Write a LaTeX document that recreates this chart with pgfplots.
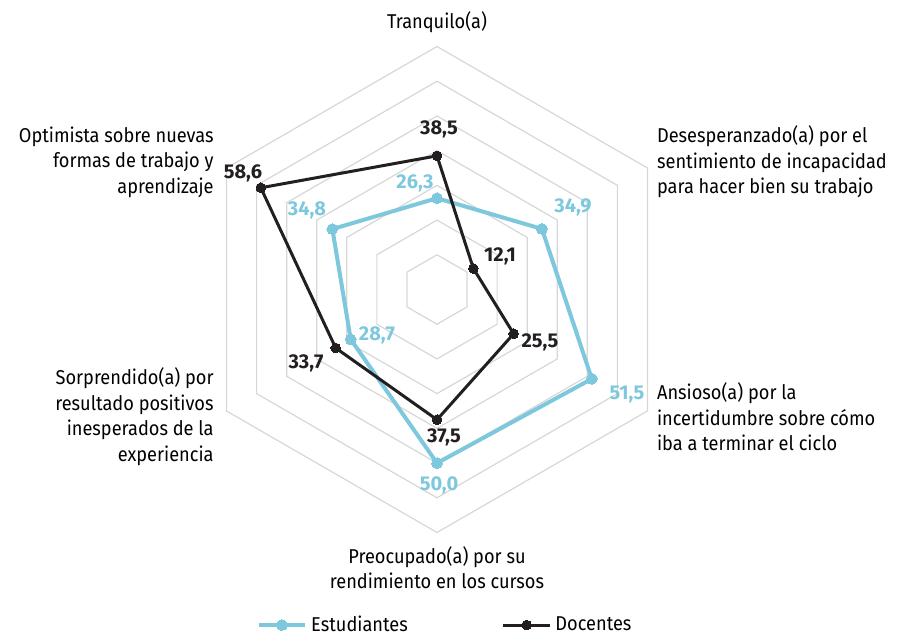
\documentclass[border=0pt]{standalone}
\usepackage{pgfplots}
\pgfplotsset{compat=1.18}
\usepgfplotslibrary{polar}
\usepackage{fontspec}
\setmainfont{Fira Sans}
\newfontfamily\lblfont{Fira Sans}[FakeStretch=0.91]
\definecolor{est}{RGB}{126,200,222}
\definecolor{doc}{RGB}{35,31,32}
\definecolor{gridc}{RGB}{215,215,215}
\newcommand{\lbl}{\lblfont\fontsize{10}{12.75}\selectfont}
\newcommand{\dl}{\bfseries\fontsize{10}{12}\selectfont}
\begin{document}
\begin{tikzpicture}
\begin{polaraxis}[
  width=243pt, height=243pt, scale only axis,
  xmin=0, xmax=360, ymin=0, ymax=70,
  xtick=\empty, ytick=\empty,
  axis line style={draw=none},
  clip=false,
  legend style={at={(axis cs:271.54,96.7)}, anchor=center, draw=none, fill=none,
    font=\lbl, legend columns=2,
    /tikz/every even column/.append style={column sep=45pt}},
  legend image code/.code={\draw[mark repeat=2,mark phase=2] plot coordinates {(0cm,0cm) (0.41cm,0cm) (0.82cm,0cm)};},
]
\addplot[gridc, line width=0.6pt, forget plot] coordinates {(90,10)(30,10)(330,10)(270,10)(210,10)(150,10)(90,10)};
\addplot[gridc, line width=0.6pt, forget plot] coordinates {(90,20)(30,20)(330,20)(270,20)(210,20)(150,20)(90,20)};
\addplot[gridc, line width=0.6pt, forget plot] coordinates {(90,30)(30,30)(330,30)(270,30)(210,30)(150,30)(90,30)};
\addplot[gridc, line width=0.6pt, forget plot] coordinates {(90,40)(30,40)(330,40)(270,40)(210,40)(150,40)(90,40)};
\addplot[gridc, line width=0.6pt, forget plot] coordinates {(90,50)(30,50)(330,50)(270,50)(210,50)(150,50)(90,50)};
\addplot[gridc, line width=0.6pt, forget plot] coordinates {(90,60)(30,60)(330,60)(270,60)(210,60)(150,60)(90,60)};
\addplot[gridc, line width=0.6pt, forget plot] coordinates {(90,70)(30,70)(330,70)(270,70)(210,70)(150,70)(90,70)};

\addplot[est, line width=2pt, line join=round, mark=*, mark size=2.7pt, mark options={fill=est, draw=est, line width=0pt}]
  coordinates {(90,26.3)(30,34.9)(330,51.5)(270,50.0)(210,28.7)(150,34.8)(90,26.3)};
\addlegendentry{Estudiantes}
\addplot[doc, line width=1.5pt, line join=round, mark=*, mark size=2.4pt, mark options={fill=doc, draw=doc, line width=0pt}]
  coordinates {(90,38.5)(30,12.1)(330,25.5)(270,37.5)(210,33.7)(150,58.6)(90,38.5)};
\addlegendentry{Docentes}

% category labels
\node[inner sep=0, anchor=center, font=\lbl] at ([shift={(0pt,133.75pt)}]axis cs:0,0) {Tranquilo(a)};
\node[inner sep=0, anchor=west, align=left, font=\lbl] at ([shift={(109.85pt,63.75pt)}]axis cs:0,0) {Desesperanzado(a) por el\\sentimiento de incapacidad\\para hacer bien su trabajo};
\node[inner sep=0, anchor=west, align=left, font=\lbl] at ([shift={(109.85pt,-63.75pt)}]axis cs:0,0) {Ansioso(a) por la\\incertidumbre sobre cómo\\iba a terminar el ciclo};
\node[inner sep=0, anchor=center, align=center, font=\lbl] at ([shift={(0pt,-139pt)}]axis cs:0,0) {Preocupado(a) por su\\rendimiento en los cursos};
\node[inner sep=0, anchor=east, align=right, font=\lbl] at ([shift={(-111.5pt,-63.5pt)}]axis cs:0,0) {Sorprendido(a) por\\resultado positivos\\inesperados de la\\experiencia};
\node[inner sep=0, anchor=east, align=right, font=\lbl] at ([shift={(-111.5pt,63.75pt)}]axis cs:0,0) {Optimista sobre nuevas\\formas de trabajo y\\aprendizaje};

% data labels
\node[inner sep=0, text=est, font=\dl] at ([shift={(-11pt,53.25pt)}]axis cs:0,0) {26,3};
\node[inner sep=0, text=est, font=\dl] at ([shift={(68pt,41.25pt)}]axis cs:0,0) {34,9};
\node[inner sep=0, text=est, font=\dl] at ([shift={(95pt,-52.75pt)}]axis cs:0,0) {51,5};
\node[inner sep=0, text=est, font=\dl] at ([shift={(1pt,-97.75pt)}]axis cs:0,0) {50,0};
\node[inner sep=0, text=est, font=\dl] at ([shift={(-30pt,-22.75pt)}]axis cs:0,0) {28,7};
\node[inner sep=0, text=est, font=\dl] at ([shift={(-65pt,39.75pt)}]axis cs:0,0) {34,8};
\node[inner sep=0, text=doc, font=\dl] at ([shift={(1pt,80.25pt)}]axis cs:0,0) {38,5};
\node[inner sep=0, text=doc, font=\dl] at ([shift={(31.5pt,16.4pt)}]axis cs:0,0) {12,1};
\node[inner sep=0, text=doc, font=\dl] at ([shift={(51.5pt,-26.25pt)}]axis cs:0,0) {25,5};
\node[inner sep=0, text=doc, font=\dl] at ([shift={(3.5pt,-73.75pt)}]axis cs:0,0) {37,5};
\node[inner sep=0, text=doc, font=\dl] at ([shift={(-65.5pt,-36.75pt)}]axis cs:0,0) {33,7};
\node[inner sep=0, text=doc, font=\dl] at ([shift={(-97pt,58.25pt)}]axis cs:0,0) {58,6};
\coordinate (O) at (axis cs:0,0);
\end{polaraxis}
\pgfresetboundingbox
\path[use as bounding box] ([shift={(-218.5pt,-172.75pt)}]O) rectangle ([shift={(230pt,144.75pt)}]O);
\end{tikzpicture}
\end{document}
